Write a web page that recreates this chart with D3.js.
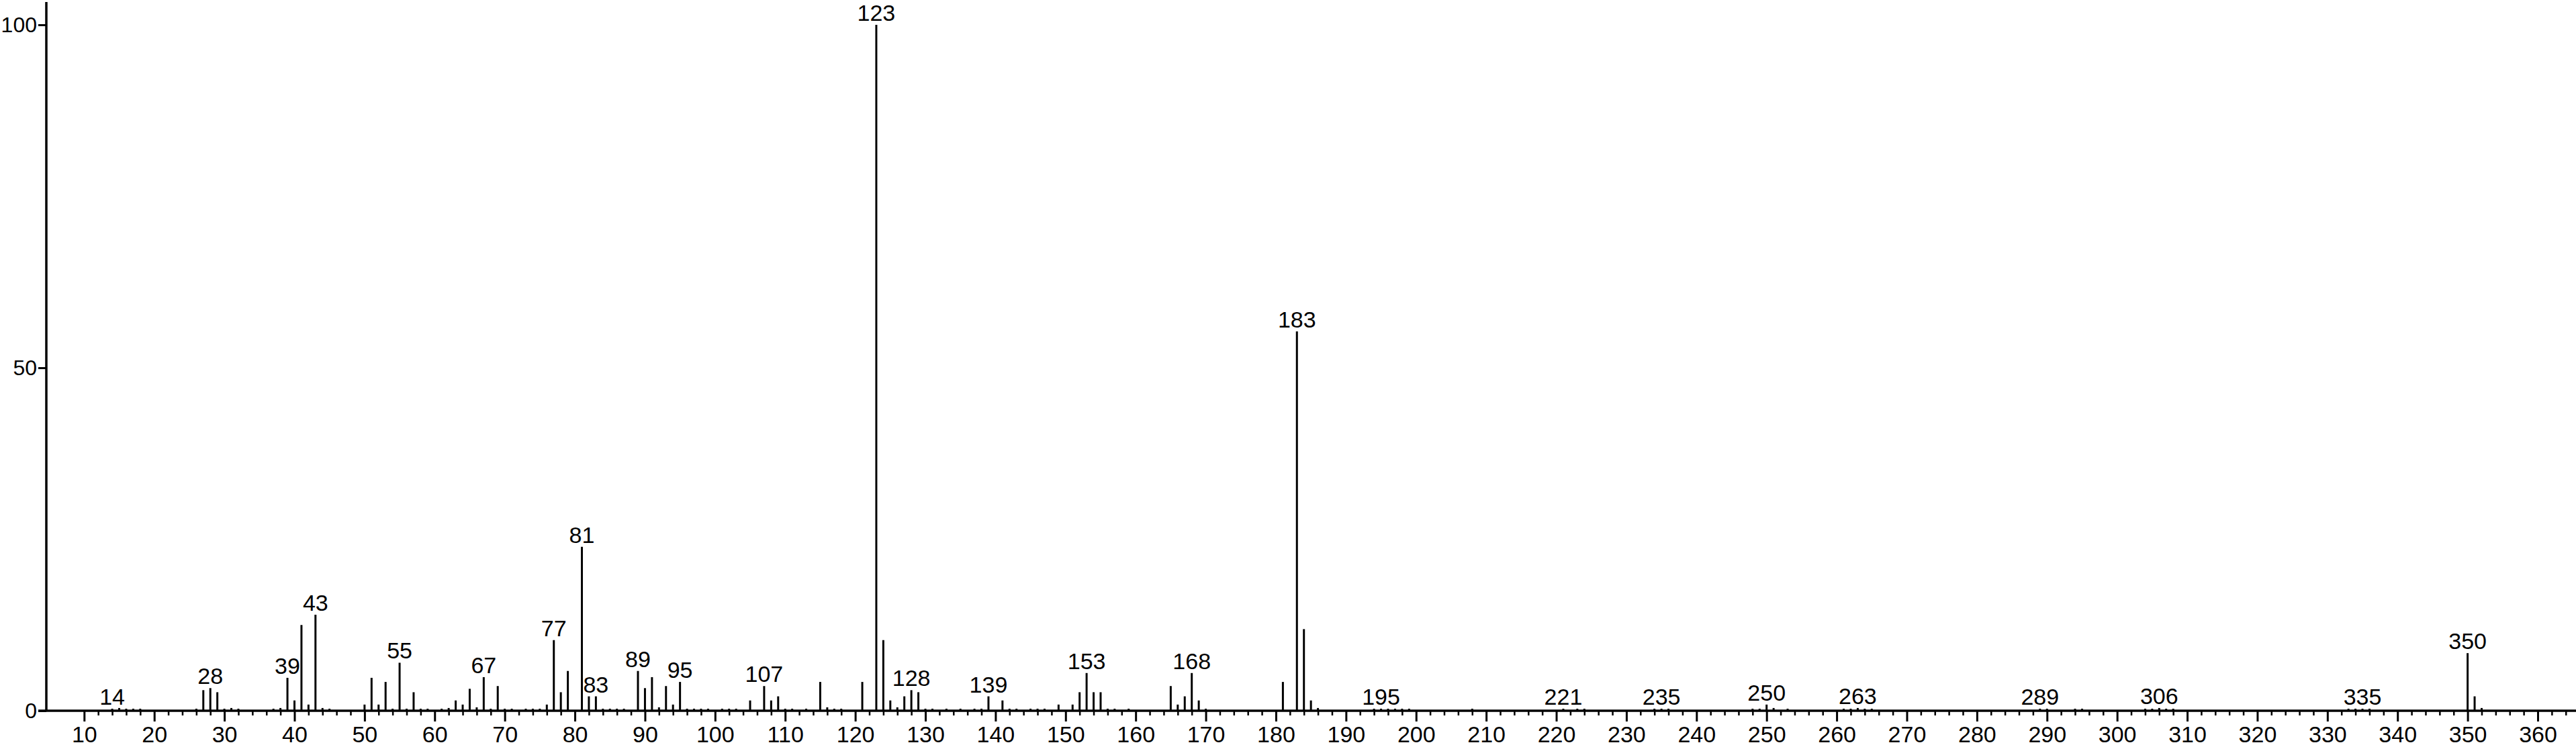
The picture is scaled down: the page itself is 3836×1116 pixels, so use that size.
<!DOCTYPE html>
<html>
<head>
<meta charset="utf-8">
<script src="https://cdn.jsdelivr.net/npm/d3@7"></script>
<style>
  body { margin: 0; background: #fff; }
  svg text { font-family: "Liberation Sans", Arial, sans-serif; font-size: 34px; fill: #000; }
  svg .yaxis text { font-size: 32px; }
</style>
</head>
<body>
<svg id="chart" width="3836" height="1116"></svg>
<script>
// peaks (m/z, relative intensity %)
var mz = [14, 15, 16, 17, 18, 26, 27, 28, 29, 30, 31, 32, 37, 38, 39, 40, 41, 42, 43, 44, 45,
  50, 51, 52, 53, 54, 55, 56, 57, 58, 59, 61, 62, 63, 64, 65, 66, 67, 68, 69, 70, 71, 73, 74, 75,
  76, 77, 78, 79, 81, 82, 83, 84, 85, 86, 87, 89, 90, 91, 92, 93, 94, 95, 96, 97, 98, 99,
  101, 102, 103, 105, 107, 108, 109, 110, 111, 113, 115, 116, 117, 118, 121, 123, 124, 125, 126,
  127, 128, 129, 130, 131, 133, 135, 137, 138, 139, 141, 142, 143, 145, 146, 147, 149, 151, 152,
  153, 154, 155, 156, 157, 159, 165, 166, 167, 168, 169, 170, 181, 183, 184, 185, 186,
  194, 195, 196, 197, 198, 199, 208, 221, 223, 224, 234, 235, 236, 248, 249, 250, 251, 253,
  261, 262, 263, 264, 265, 289, 290, 294, 295, 304, 305, 306, 307, 308, 333, 334, 335, 336,
  350, 351, 352];
var intensity = [0.3, 0.4, 0.3, 0.3, 0.3, 0.3, 3.0, 3.3, 2.7, 0.3, 0.4, 0.3, 0.3, 0.4, 4.8, 1.5, 12.5, 0.9, 14.0, 0.4, 0.3,
  0.9, 4.8, 0.9, 4.2, 0.3, 7.0, 0.3, 2.7, 0.3, 0.3, 0.3, 0.4, 1.5, 0.9, 3.2, 0.5, 4.9, 0.3, 3.6, 0.3, 0.3, 0.3, 0.3, 0.3,
  0.9, 10.3, 2.7, 5.8, 23.9, 2.1, 2.1, 0.3, 0.3, 0.3, 0.3, 5.8, 3.3, 4.9, 0.5, 3.6, 0.9, 4.2, 0.3, 0.3, 0.3, 0.3,
  0.3, 0.3, 0.3, 1.5, 3.6, 1.5, 2.1, 0.3, 0.3, 0.3, 4.2, 0.5, 0.3, 0.3, 4.2, 100, 10.3, 1.5, 0.5,
  2.1, 3.0, 2.7, 0.3, 0.3, 0.3, 0.3, 0.3, 0.3, 2.1, 1.5, 0.3, 0.3, 0.3, 0.3, 0.3, 0.9, 0.9, 2.7,
  5.5, 2.7, 2.7, 0.3, 0.3, 0.3, 3.6, 0.9, 2.1, 5.5, 1.5, 0.3, 4.2, 55.3, 11.9, 1.5, 0.4,
  0.3, 0.3, 0.3, 0.3, 0.3, 0.3, 0.3, 0.3, 0.3, 0.3, 0.3, 0.3, 0.3, 0.3, 0.3, 0.9, 0.4, 0.3,
  0.3, 0.3, 0.4, 0.3, 0.3, 0.3, 0.3, 0.3, 0.3, 0.3, 0.3, 0.4, 0.3, 0.3, 0.3, 0.3, 0.3, 0.3,
  8.4, 2.1, 0.4];
var labeled = [14, 28, 39, 43, 55, 67, 77, 81, 83, 89, 95, 107, 123, 128, 139, 153, 168, 183,
  195, 221, 235, 250, 263, 289, 306, 335, 350];
var xTickLabels = [10, 20, 30, 40, 50, 60, 70, 80, 90, 100, 110, 120, 130, 140, 150, 160, 170, 180,
  190, 200, 210, 220, 230, 240, 250, 260, 270, 280, 290, 300, 310, 320, 330, 340, 350, 360];
var yTickLabels = [0, 50, 100];

var svg = d3.select("#chart");

var x = d3.scaleLinear().domain([10, 360]).range([125.3, 3779]);
var y = d3.scaleLinear().domain([0, 100]).range([1059, 37]);

var minorTicks = [];
for (var m = 10; m <= 364; m += 2) {
  if (m % 10 != 0) minorTicks.push(m);
}

// minor ticks
svg.append("g")
  .attr("transform", "translate(0," + y(0) + ")")
  .call(d3.axisBottom(x).tickValues(minorTicks).tickSize(7).tickFormat(""))
  .call(function(g) { g.select(".domain").remove(); })
  .selectAll("line").attr("stroke", "#000").attr("stroke-width", 2.5);

// major ticks + labels
var xAxis = svg.append("g")
  .attr("transform", "translate(0," + y(0) + ")")
  .call(d3.axisBottom(x).tickValues(xTickLabels).tickSize(16).tickPadding(7).tickFormat(d3.format("d")));
xAxis.select(".domain").remove();
xAxis.selectAll("line").attr("stroke", "#000").attr("stroke-width", 3);
xAxis.attr("font-family", null).attr("font-size", null);

var yAxis = svg.append("g")
  .attr("class", "yaxis")
  .attr("transform", "translate(69,0)")
  .call(d3.axisLeft(y).tickValues(yTickLabels).tickSize(12).tickPadding(2));
yAxis.select(".domain").remove();
yAxis.selectAll("line").attr("stroke", "#000").attr("stroke-width", 3);
yAxis.attr("font-family", null).attr("font-size", null);

// axis lines
svg.append("line")
  .attr("x1", 57).attr("x2", 3836)
  .attr("y1", y(0)).attr("y2", y(0))
  .attr("stroke", "#000").attr("stroke-width", 3.5);
svg.append("line")
  .attr("x1", 69).attr("x2", 69)
  .attr("y1", 3).attr("y2", y(0))
  .attr("stroke", "#000").attr("stroke-width", 3.5);

// peaks
var peaks = mz.map(function(d, i) { return {mz: d, val: intensity[i]}; });

svg.append("g").selectAll("line")
  .data(peaks)
  .enter().append("line")
  .attr("x1", function(d) { return x(d.mz); })
  .attr("x2", function(d) { return x(d.mz); })
  .attr("y1", y(0))
  .attr("y2", function(d) { return y(d.val); })
  .attr("stroke", "#000")
  .attr("stroke-width", 3);

// peak labels
svg.append("g").selectAll("text")
  .data(peaks.filter(function(d) { return labeled.indexOf(d.mz) >= 0; }))
  .enter().append("text")
  .attr("x", function(d) { return x(d.mz); })
  .attr("y", function(d) { return y(d.val) - 6; })
  .attr("text-anchor", "middle")
  .text(function(d) { return d.mz; });
</script>
</body>
</html>
